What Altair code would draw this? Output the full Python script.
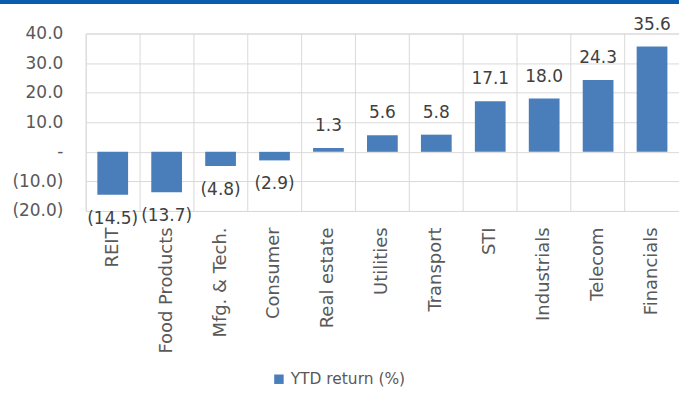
import altair as alt
import pandas as pd

categories = ["REIT", "Food Products", "Mfg. & Tech.", "Consumer", "Real estate",
              "Utilities", "Transport", "STI", "Industrials", "Telecom", "Financials"]
values = [-14.5, -13.7, -4.8, -2.9, 1.3, 5.6, 5.8, 17.1, 18.0, 24.3, 35.6]
series_name = "YTD return (%)"
y_ticks = [-20, -10, 0, 10, 20, 30, 40]

df = pd.DataFrame({"cat": categories, "val": values, "series": series_name})
df["lab"] = [("(%.1f)" % -v) if v < 0 else ("%.1f" % v) for v in values]

FONT = "DejaVu Sans"
BLUE = "#4A7EBB"
TXT = "#595959"
W, H = 595, 178

x = alt.X("cat:N", sort=categories, title=None,
          scale=alt.Scale(paddingInner=0, paddingOuter=0),
          axis=alt.Axis(labelAngle=-90, labelAlign="right", labelBaseline="middle",
                        labelPadding=16, ticks=False, domain=False, grid=True,
                        bandPosition=0, gridColor="#d9d9d9", labelColor=TXT,
                        labelFontSize=18, labelFont=FONT, labelOverlap=False))
y = alt.Y("val:Q", title=None,
          scale=alt.Scale(domain=[-20, 40], nice=False),
          axis=alt.Axis(values=y_ticks, ticks=False, domain=False,
                        gridColor="#d9d9d9", labelColor=TXT, labelFontSize=17,
                        labelFont=FONT, labelPadding=23, labelOverlap=False,
                        labelExpr="datum.value > 0 ? format(datum.value, '.1f') : (datum.value < 0 ? '(' + format(-datum.value, '.1f') + ')' : '-\u00a0\u00a0\u00a0\u00a0')"))

bars = alt.Chart(df).mark_bar(width={"band": 0.57}).encode(
    x=x, y=y,
    color=alt.Color("series:N", scale=alt.Scale(range=[BLUE]), title=None,
                    legend=alt.Legend(orient="none", legendX=186, legendY=339,
                                      symbolType="square", symbolSize=90,
                                      symbolStrokeWidth=0, labelFontSize=15.5,
                                      labelFont=FONT, labelColor=TXT)))

pos = alt.Chart(df).transform_filter("datum.val >= 0").mark_text(
    baseline="middle", dy=-22, fontSize=17, font=FONT, color="#404040").encode(
    x=x, y=y, text="lab:N")
neg = alt.Chart(df).transform_filter("datum.val < 0").mark_text(
    baseline="middle", dy=24, fontSize=17, font=FONT, color="#404040").encode(
    x=x, y=y, text="lab:N")

topline = alt.Chart(df).mark_rule(color="#0B5CAD", strokeWidth=3).encode(
    x=alt.value(-90), x2=alt.value(W + 10), y=alt.value(-31.5))

chart = alt.layer(bars, pos, neg, topline).properties(
    width=W, height=H,
    autosize=alt.AutoSizeParams(type="none"),
    padding={"left": 86, "top": 33, "right": 0, "bottom": 199},
).configure_view(stroke=None).configure(background="white")

chart.save("out.html", embed_options={"renderer": "svg", "actions": False})
